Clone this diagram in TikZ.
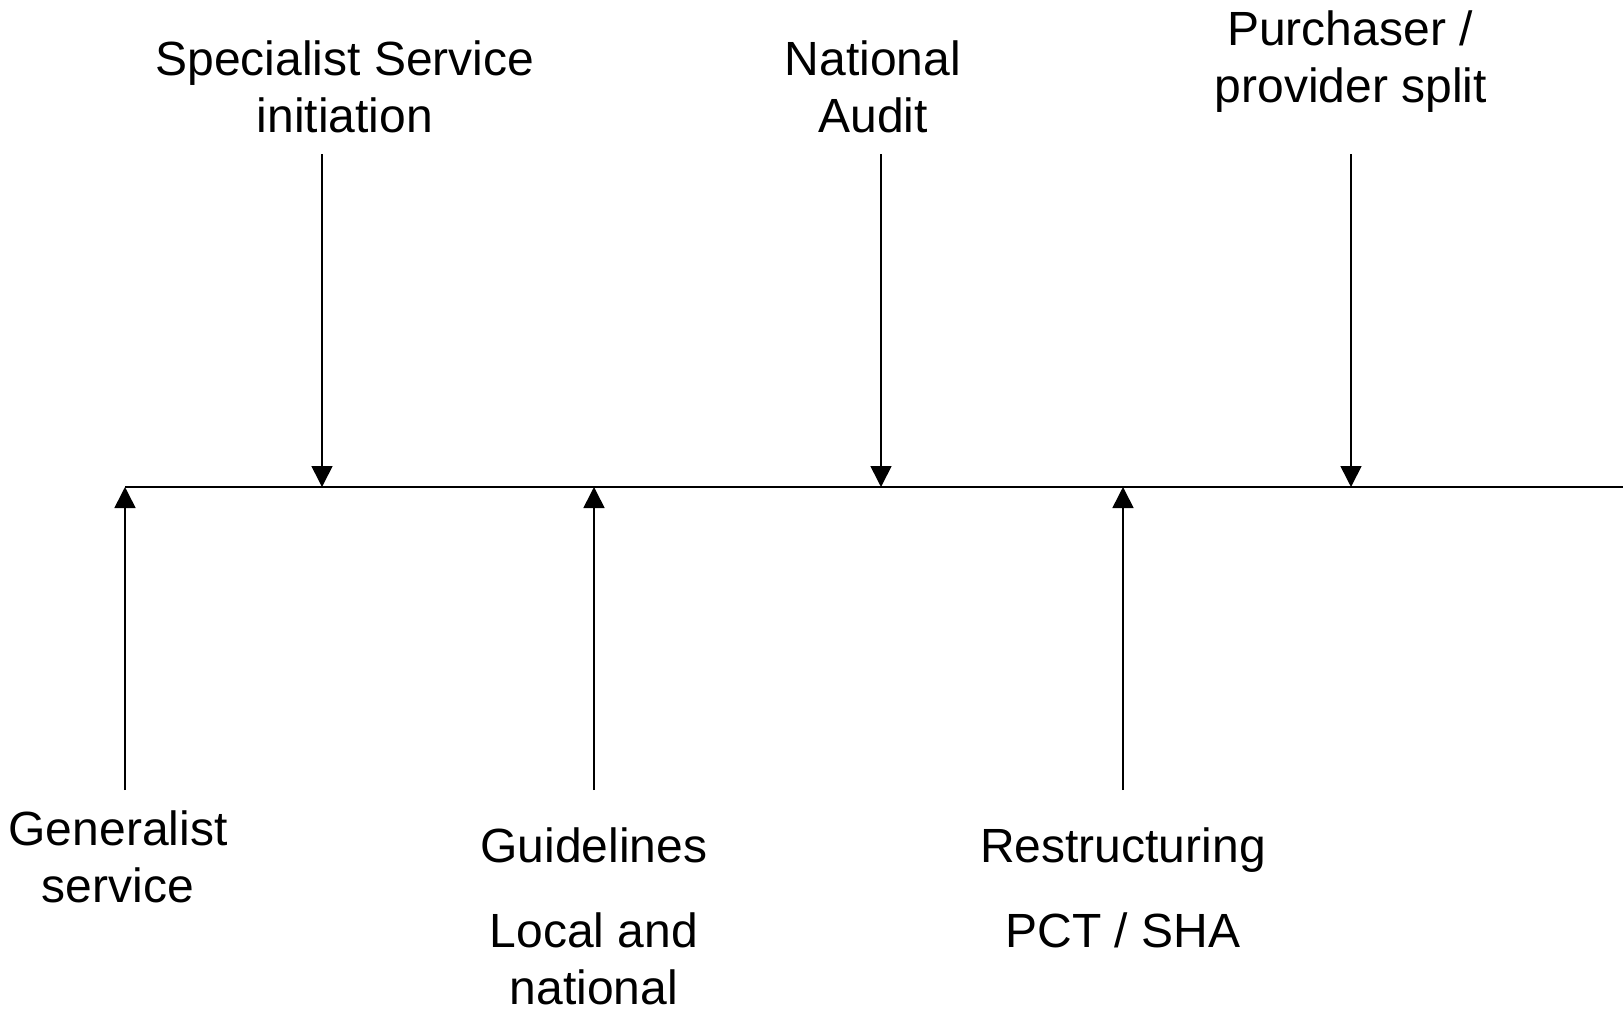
\documentclass[tikz,border=0pt]{standalone}
\usepackage{fontspec}
\setmainfont{Liberation Sans}
\usetikzlibrary{arrows.meta}
\tikzset{
  lbl/.style={anchor=base, inner sep=0pt, font=\fontsize{48}{57}\selectfont},
  evt/.style={line width=1.6pt, -{Triangle[width=21pt,length=21pt]}}
}
\begin{document}
\begin{tikzpicture}[x=1pt,y=-1pt]
	    \useasboundingbox (0,0) rectangle (1623,1012);
	    % timeline
	    \coordinate (t0) at (125,487);
	    \coordinate (t1) at (1623,487);
	    \draw[line width=1.6pt] (t0) -- (t1);
	    % events above
	    \node[lbl] (s1) at (345,75) {Specialist Service};
	    \node[lbl] (s2) at (345,132) {initiation};
	    \node[lbl] (n1) at (873,75) {National};
	    \node[lbl] (n2) at (873,132) {Audit};
	    \node[lbl] (p1) at (1350,45) {Purchaser /};
	    \node[lbl] (p2) at (1351,102) {provider split};
	    \coordinate (sa) at (322,154);
	    \coordinate (sb) at (322,487);
	    \coordinate (na) at (881,154);
	    \coordinate (nb) at (881,487);
	    \coordinate (pa) at (1351,154);
	    \coordinate (pb) at (1351,487);
	    \draw[evt] (sa) -- (sb);
	    \draw[evt] (na) -- (nb);
	    \draw[evt] (pa) -- (pb);
	    % events below
	    \node[lbl] (g1) at (118,845) {Generalist};
	    \node[lbl] (g2) at (118,902) {service};
	    \node[lbl] (d1) at (594,862) {Guidelines};
	    \node[lbl] (d2) at (594,947) {Local and};
	    \node[lbl] (d3) at (594,1004) {national};
	    \node[lbl] (r1) at (1123,862) {Restructuring};
	    \node[lbl] (r2) at (1123,947) {PCT / SHA};
	    \coordinate (ga) at (125,790);
	    \coordinate (da) at (594,790);
	    \coordinate (db) at (594,487);
	    \coordinate (ra) at (1123,790);
	    \coordinate (rb) at (1123,487);
	    \draw[evt] (ga) -- (t0);
	    \draw[evt] (da) -- (db);
	    \draw[evt] (ra) -- (rb);
        \end{tikzpicture}
\end{document}
